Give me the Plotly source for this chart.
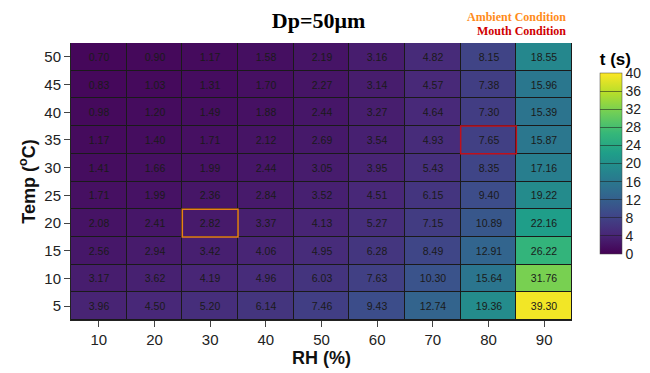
import plotly.graph_objects as go

rh = [10, 20, 30, 40, 50, 60, 70, 80, 90]
temps = [5, 10, 15, 20, 25, 30, 35, 40, 45, 50]
# rows ordered by temperature ascending (5 -> 50)
t_values = [
    [3.96, 4.50, 5.20, 6.14, 7.46, 9.43, 12.74, 19.36, 39.30],
    [3.17, 3.62, 4.19, 4.96, 6.03, 7.63, 10.30, 15.64, 31.76],
    [2.56, 2.94, 3.42, 4.06, 4.95, 6.28, 8.49, 12.91, 26.22],
    [2.08, 2.41, 2.82, 3.37, 4.13, 5.27, 7.15, 10.89, 22.16],
    [1.71, 1.99, 2.36, 2.84, 3.52, 4.51, 6.15, 9.40, 19.22],
    [1.41, 1.66, 1.99, 2.44, 3.05, 3.95, 5.43, 8.35, 17.16],
    [1.17, 1.40, 1.71, 2.12, 2.69, 3.54, 4.93, 7.65, 15.87],
    [0.98, 1.20, 1.49, 1.88, 2.44, 3.27, 4.64, 7.30, 15.39],
    [0.83, 1.03, 1.31, 1.70, 2.27, 3.14, 4.57, 7.38, 15.96],
    [0.70, 0.90, 1.17, 1.58, 2.19, 3.16, 4.82, 8.15, 18.55],
]
cbar_ticks = [0, 4, 8, 12, 16, 20, 24, 28, 32, 36, 40]
ambient = (30, 20)   # (RH, Temp)
mouth = (80, 35)

fig = go.Figure()
fig.add_trace(go.Heatmap(
    x=rh, y=temps, z=t_values,
    zmin=0, zmax=40, colorscale="Viridis",
    xgap=1, ygap=1,
    texttemplate="%{z:.2f}",
    textfont=dict(size=10.5, color="#1a1a1a", family="Liberation Sans"),
    colorbar=dict(
        title=dict(text="<b>t (s)</b>", side="top",
                   font=dict(size=17, family="Liberation Sans", color="black")),
        tickvals=cbar_ticks, ticks="inside", ticklen=22, tickcolor="rgba(30,30,30,0.55)",
        tickfont=dict(size=14, family="Liberation Sans", color="#222"),
        ticklabelposition="outside",
        thickness=22, len=0.74, lenmode="fraction",
        x=1.056, xanchor="left", y=0.238, yanchor="bottom",
        outlinewidth=0.5, outlinecolor="#444", xpad=0, ypad=0,
    ),
    hoverinfo="skip",
))

dx = (rh[1] - rh[0]) / 2
dy = (temps[1] - temps[0]) / 2
for (cx, cy), col in [(ambient, "#E8801A"), (mouth, "#C0101A")]:
    fig.add_shape(type="rect", xref="x", yref="y",
                  x0=cx - dx, x1=cx + dx, y0=cy - dy, y1=cy + dy,
                  line=dict(color=col, width=1.5))

fig.add_annotation(text="<b>Ambient Condition</b>", xref="paper", yref="paper",
                   x=0.993, y=1.095, xanchor="right", yanchor="middle", showarrow=False,
                   font=dict(family="Liberation Serif", size=12, color="#FF8C1A"))
fig.add_annotation(text="<b>Mouth Condition</b>", xref="paper", yref="paper",
                   x=0.993, y=1.045, xanchor="right", yanchor="middle", showarrow=False,
                   font=dict(family="Liberation Serif", size=12, color="#D00000"))

fig.update_layout(
    width=650, height=373,
    margin=dict(l=71, r=78, t=43, b=53, autoexpand=False),
    paper_bgcolor="white", plot_bgcolor="#1a1a1a",
    title=dict(text="<b>Dp=50\u03bcm</b>", x=0.49, xanchor="center", y=0.945, yanchor="middle",
               font=dict(family="Liberation Serif", size=22, color="black")),
    xaxis=dict(title=dict(text="<b>RH (%)</b>", standoff=4,
                          font=dict(size=18, family="Liberation Sans", color="#111")),
               tickvals=rh, ticks="outside", ticklen=6, tickcolor="#444",
               tickfont=dict(size=15, family="Liberation Sans", color="#222"),
               showline=True, linecolor="#222", linewidth=1, mirror=False,
               range=[rh[0] - dx, rh[-1] + dx], showgrid=False, zeroline=False),
    yaxis=dict(title=dict(text="<b>Temp (<sup>o</sup>C)</b>", standoff=4,
                          font=dict(size=18, family="Liberation Sans", color="#111")),
               tickvals=temps, ticks="outside", ticklen=6, tickcolor="#444",
               tickfont=dict(size=15, family="Liberation Sans", color="#222"),
               showline=True, linecolor="#222", linewidth=1,
               range=[temps[0] - dy, temps[-1] + dy], showgrid=False, zeroline=False),
)

fig.write_html("out.html")
